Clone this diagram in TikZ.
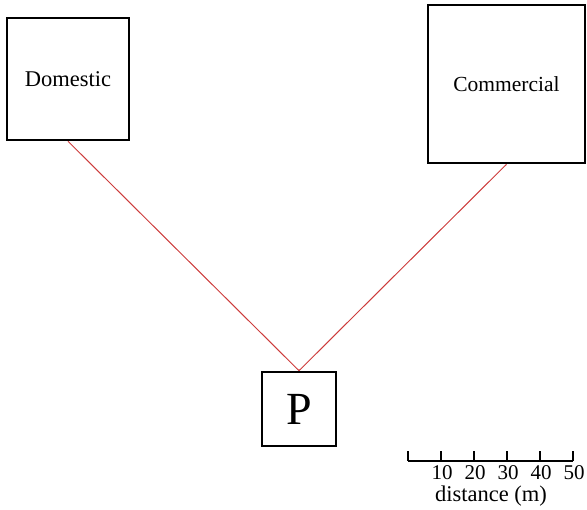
\documentclass[tikz,border=0pt]{standalone}
\usepackage{fontspec}
\setmainfont{Liberation Serif}
\definecolor{linkred}{RGB}{205,60,60}
\begin{document}
\begin{tikzpicture}[x=1pt,y=-1pt,
  zone/.style={draw, line width=2.6pt, inner sep=0pt},
  link/.style={draw=linkred, line width=1pt},
  scalebar/.style={line width=1.2pt},
  lbl/.style={inner sep=0pt, font=\fontsize{21}{24}\selectfont}]
\useasboundingbox (0,0) rectangle (587,510);
\node[zone, minimum width=122pt, minimum height=122pt, font=\fontsize{22.5}{26}\selectfont] (dom) at (68,79) {Domestic};
\node[zone, minimum width=157pt, minimum height=158pt, font=\fontsize{21.5}{26}\selectfont] (com) at (506.5,84) {Commercial};
\node[zone, minimum width=74pt, minimum height=74pt, font=\fontsize{46}{50}\selectfont] (p) at (299,409) {P};
\draw[link] (dom.south) -- (p.north);
\draw[link] (com.south) -- (p.north);
% scale bar
\coordinate (s0) at (408,461);
\coordinate (s1) at (441,461);
\coordinate (s2) at (474,461);
\coordinate (s3) at (507,461);
\coordinate (s4) at (540,461);
\coordinate (s5) at (573,461);
\draw[scalebar] (s0) -- (s5);
\foreach \i in {0,...,5} \draw[scalebar] (s\i) -- ++(0,-10);
\node[lbl, anchor=base] (l1) at ([xshift=1pt,yshift=-19pt]s1) {10};
\node[lbl, anchor=base] (l2) at ([xshift=1pt,yshift=-19pt]s2) {20};
\node[lbl, anchor=base] (l3) at ([xshift=1pt,yshift=-19pt]s3) {30};
\node[lbl, anchor=base] (l4) at ([xshift=1pt,yshift=-19pt]s4) {40};
\node[lbl, anchor=base] (l5) at ([xshift=1pt,yshift=-19pt]s5) {50};
\node[lbl, anchor=base, font=\fontsize{22.5}{26}\selectfont] (dist) at (491,502) {distance (m)};
\end{tikzpicture}
\end{document}
